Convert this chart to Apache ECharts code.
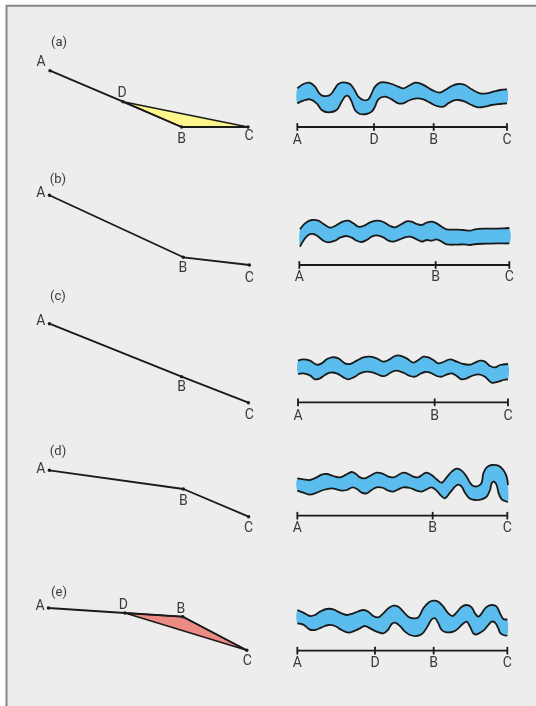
<!DOCTYPE html>
<html>
<head>
<meta charset="utf-8">
<script src="https://cdn.jsdelivr.net/npm/echarts@6/dist/echarts.min.js"></script>
<style>html,body{margin:0;padding:0;background:#fff}#c{width:536px;height:706px}</style>
</head>
<body>
<div id="c"></div>
<script>
// ---------- DATA ----------
const panelLabels = ['(a)', '(b)', '(c)', '(d)', '(e)'];

// Long profiles: [point, horizontal distance (0..100), elevation]
const profileA = [['A', 0.5, 56.3], ['D', 37, 25.3], ['B', 66.3, 0], ['C', 99.5, 0]];
const profileB = [['A', 0.2, 69.7], ['B', 67.2, 7.7], ['C', 100.2, 0]];
const profileC = [['A', 0.2, 79], ['B', 66.3, 26], ['C', 99.7, 0]];
const profileD = [['A', 0.2, 46.4], ['B', 67.2, 27.7], ['C', 99.8, 0]];
const profileE = [['A', -0.3, 42.3], ['D', 38, 37.3], ['B', 66.9, 33.6], ['C', 98.9, 0]];

// Shaded wedges (vertex names)
const wedgeA = ['D', 'B', 'C'];
const wedgeE = ['D', 'B', 'C'];

// Distance axis ticks for plan views: [label, distance]
const ticksA = [['A', 82], ['D', 312], ['B', 491], ['C', 711]];
const ticksB = [['A', 88], ['B', 497], ['C', 718]];
const ticksC = [['A', 84], ['B', 494], ['C', 714]];
const ticksD = [['A', 82], ['B', 488], ['C', 712]];
const ticksE = [['A', 82], ['D', 315], ['B', 491], ['C', 712]];

// Plan-view channel banks: [distance, lateral position]
const riverATop = [[82,85],[100,72],[118,68],[135,80],[148,100],[160,108],[180,105],[195,85],[205,72],[220,67],[240,72],[255,92],[265,110],[280,120],[295,118],[305,100],[315,80],[330,68],[345,67],[365,72],[385,80],[400,85],[415,78],[435,68],[450,70],[470,80],[490,92],[510,98],[525,90],[545,78],[565,72],[585,75],[605,88],[630,100],[650,100],[670,95],[690,90],[711,88]];
const riverABottom = [[82,130],[100,122],[120,118],[140,130],[155,150],[175,157],[200,150],[215,125],[225,110],[235,108],[245,125],[255,150],[270,162],[290,162],[305,155],[315,140],[325,118],[345,110],[365,118],[385,130],[400,130],[420,120],[440,115],[460,118],[480,128],[500,138],[520,140],[535,130],[550,122],[565,120],[585,125],[605,135],[625,142],[645,140],[665,135],[690,132],[711,130]];

const riverBTop = [[90,88],[105,70],[125,60],[145,62],[165,75],[182,83],[200,75],[218,65],[235,62],[250,70],[265,80],[280,78],[300,67],[320,62],[340,66],[360,78],[375,82],[395,72],[410,64],[425,65],[440,72],[455,75],[470,68],[485,65],[500,70],[515,80],[530,88],[560,89],[580,90],[600,92],[615,88],[640,86],[670,86],[700,85],[718,84]];
const riverBBottom = [[90,140],[100,122],[115,105],[130,102],[145,110],[160,122],[175,127],[195,122],[210,113],[228,108],[245,113],[260,122],[275,126],[290,120],[305,110],[320,106],[340,112],[355,122],[370,125],[390,118],[405,112],[420,110],[440,118],[455,125],[470,120],[485,122],[500,118],[515,125],[530,133],[560,134],[580,133],[600,135],[620,132],[650,131],[680,130],[718,130]];

const riverCTop = [[84,62],[100,58],[120,62],[140,74],[155,70],[170,58],[185,52],[205,55],[225,70],[240,72],[260,62],[280,52],[300,50],[320,55],[340,65],[355,60],[375,48],[390,47],[410,55],[430,68],[445,60],[460,50],[475,52],[490,60],[505,70],[520,66],[540,58],[560,65],[580,72],[600,74],[615,68],[630,62],[645,65],[660,78],[675,82],[690,75],[714,72]];
const riverCBottom = [[84,102],[100,100],[120,106],[135,118],[150,115],[165,105],[180,98],[200,100],[220,112],[235,118],[255,110],[270,100],[290,95],[310,98],[330,106],[345,108],[365,96],[380,92],[400,98],[420,108],[435,110],[450,102],[465,96],[480,98],[500,108],[515,110],[530,104],[545,100],[560,108],[575,118],[590,115],[605,108],[625,103],[645,110],[665,128],[685,125],[700,120],[714,118]];

const riverDTop = [[82,85],[100,88],[120,90],[140,82],[155,74],[170,72],[190,78],[210,82],[228,74],[245,66],[258,72],[270,82],[285,85],[305,75],[320,68],[340,72],[355,80],[370,82],[385,75],[400,68],[415,72],[430,80],[445,82],[460,72],[470,68],[485,75],[500,88],[515,98],[530,82],[545,65],[560,56],[575,62],[590,80],[600,98],[610,108],[625,108],[635,98],[640,70],[650,52],[665,45],[685,47],[700,60],[710,80],[714,105]];
const riverDBottom = [[82,122],[100,128],[120,134],[140,128],[160,120],[185,115],[200,118],[215,122],[230,120],[248,112],[262,118],[275,128],[290,130],[305,120],[320,112],[340,114],[355,122],[370,125],[385,118],[400,112],[420,114],[440,122],[455,125],[470,118],[485,112],[500,122],[512,136],[525,145],[540,128],[555,110],[565,104],[575,110],[585,128],[598,145],[615,150],[635,148],[650,140],[660,120],[665,100],[672,95],[680,105],[686,130],[695,148],[705,153],[714,156]];

const riverETop = [[82,90],[100,98],[120,108],[135,105],[150,95],[170,87],[190,88],[210,98],[230,105],[250,100],[265,94],[280,90],[295,95],[310,108],[325,112],[340,100],[355,85],[370,77],[385,80],[400,95],[415,110],[430,115],[445,112],[460,85],[475,68],[490,62],[505,65],[520,80],[535,100],[548,108],[562,95],[575,80],[590,75],[605,82],[615,100],[625,110],[635,100],[648,82],[665,75],[680,80],[690,100],[700,117],[712,118]];
const riverEBottom = [[82,130],[100,134],[118,148],[135,150],[155,142],[175,135],[195,138],[215,150],[235,158],[255,152],[270,145],[285,138],[300,145],[320,155],[340,160],[355,148],[365,132],[375,128],[390,138],[405,155],[420,165],[440,168],[458,160],[475,135],[485,118],[495,115],[505,130],[515,150],[530,157],[550,155],[565,145],[578,132],[590,125],[600,140],[610,160],[620,163],[640,152],[655,135],[665,125],[675,128],[685,145],[690,158],[700,165],[712,167]];

// ---------- LAYOUT / STYLE ----------
const FONT = '"Liberation Sans Narrow","Arial Narrow",Roboto,"Liberation Sans",sans-serif';
const TXT = '#3a3a3a';
const INK = '#1a1a1a';
const BLUE = '#5bbdee';
const profiles = [profileA, profileB, profileC, profileD, profileE];
const wedges = [wedgeA, null, null, null, wedgeE];
const wedgeColors = ['#fcf68c', null, null, null, '#ec8a84'];
const ticks = [ticksA, ticksB, ticksC, ticksD, ticksE];
const rivers = [[riverATop, riverABottom], [riverBTop, riverBBottom], [riverCTop, riverCBottom], [riverDTop, riverDBottom], [riverETop, riverEBottom]];
const profileTop = [37, 175, 312.7, 426.7, 560.3];
const riverTop = [60, 200, 340, 450, 580];
const riverH = [100, 90, 90, 90, 90];
const axisYs = [201, 195, 187, 197, 212];
const tickLabelGap = [13, 12, 14, 13, 12.6];
const panelLabelPos = [[59, 43], [58, 180], [58, 297], [58, 452], [59, 593]];
const labelOffsets = [
  {A: [-9, -8], D: [-1, -8], B: [0, 12], C: [1, 9]},
  {A: [-8.5, -2], B: [-0.5, 11], C: [0, 13]},
  {A: [-8.5, -2], B: [0, 11], C: [1, 13]},
  {A: [-8.5, -0.5], B: [0, 12], C: [0, 11.5]},
  {A: [-8.3, -2], D: [-1.7, -8], B: [-2, -7.5], C: [0.6, 10.7]}
];

// ---------- BUILD ----------
const grids = [], xAxes = [], yAxes = [], series = [];
profiles.forEach((prof, i) => {
  const gi = grids.length;
  grids.push({left: 39, top: profileTop[i], width: 220, height: 90, containLabel: false});
  xAxes.push({type: 'value', gridIndex: gi, min: -5, max: 105, show: false});
  yAxes.push({type: 'value', gridIndex: gi, min: 0, max: 90, show: false});
  if (wedges[i]) {
    const verts = wedges[i].map(n => prof.find(p => p[0] === n));
    series.push({
      type: 'custom', xAxisIndex: gi, yAxisIndex: gi, data: [0], z: 2, silent: true, clip: false,
      renderItem: (params, api) => ({
        type: 'polygon',
        shape: {points: verts.map(v => api.coord([v[1], v[2]]))},
        style: {fill: wedgeColors[i], stroke: INK, lineWidth: 1.5, lineJoin: 'round'}
      })
    });
  }
  series.push({
    type: 'line', xAxisIndex: gi, yAxisIndex: gi, z: 3, silent: true, clip: false,
    symbol: 'circle', symbolSize: 3.4, showAllSymbol: true,
    itemStyle: {color: INK},
    lineStyle: {color: INK, width: 1.8},
    data: prof.map(p => ({
      name: p[0], value: [p[1], p[2]],
      label: {show: true, position: 'inside', offset: labelOffsets[i][p[0]], formatter: '{b}',
        color: TXT, fontSize: 14, fontFamily: FONT, align: 'center', verticalAlign: 'middle'}
    }))
  });
});

rivers.forEach((rv, i) => {
  const gi = grids.length;
  grids.push({left: 270, top: riverTop[i], width: 266, height: riverH[i], containLabel: false});
  xAxes.push({type: 'value', gridIndex: gi, min: 0, max: 798, show: false});
  yAxes.push({type: 'value', gridIndex: gi, min: 0, max: riverH[i] * 3, inverse: true, show: false});
  const top = rv[0], bot = rv[1];
  series.push({
    type: 'custom', xAxisIndex: gi, yAxisIndex: gi, data: [0], z: 2, silent: true,
    renderItem: (params, api) => {
      const t = top.map(p => api.coord(p));
      const b = bot.map(p => api.coord(p));
      const poly = t.concat(b.slice().reverse());
      return {type: 'group', children: [
        {type: 'polygon', shape: {points: poly, smooth: 0.35}, style: {fill: BLUE, stroke: null}},
        {type: 'polyline', shape: {points: t, smooth: 0.35}, style: {fill: null, stroke: INK, lineWidth: 1.8, lineJoin: 'round'}},
        {type: 'polyline', shape: {points: b, smooth: 0.35}, style: {fill: null, stroke: INK, lineWidth: 1.8, lineJoin: 'round'}}
      ]};
    }
  });
  const tk = ticks[i], ay = axisYs[i];
  series.push({
    type: 'custom', xAxisIndex: gi, yAxisIndex: gi, data: [0], z: 3, silent: true,
    renderItem: (params, api) => {
      const pts = tk.map(t => api.coord([t[1], ay]));
      const ch = [{type: 'line', shape: {x1: pts[0][0], y1: pts[0][1], x2: pts[pts.length - 1][0], y2: pts[pts.length - 1][1]},
        style: {stroke: INK, lineWidth: 1.8}}];
      pts.forEach((p, k) => {
        ch.push({type: 'line', shape: {x1: p[0], y1: p[1] - 3.8, x2: p[0], y2: p[1] + 3.8}, style: {stroke: INK, lineWidth: 1.8}});
        ch.push({type: 'text', style: {text: tk[k][0], x: p[0], y: p[1] + tickLabelGap[i],
          textAlign: 'center', textVerticalAlign: 'middle', align: 'center', verticalAlign: 'middle',
          fill: TXT, font: '14px ' + FONT}});
      });
      return {type: 'group', children: ch};
    }
  });
});

const graphic = [{
  type: 'rect', z: -10, silent: true,
  shape: {x: 6.5, y: 5.8, width: 600, height: 800},
  style: {fill: '#ededed', stroke: '#8a8683', lineWidth: 2}
}];
panelLabels.forEach((t, i) => graphic.push({
  type: 'text', z: 100, silent: true, x: panelLabelPos[i][0], y: panelLabelPos[i][1],
  style: {text: t, textAlign: 'center', textVerticalAlign: 'middle', align: 'center', verticalAlign: 'middle',
    fill: TXT, font: '13px ' + FONT}
}));

const chart = echarts.init(document.getElementById('c'), null, {renderer: 'canvas'});
chart.setOption({
  backgroundColor: '#ffffff',
  animation: false,
  graphic: graphic,
  grid: grids, xAxis: xAxes, yAxis: yAxes, series: series
});
</script>
</body>
</html>
